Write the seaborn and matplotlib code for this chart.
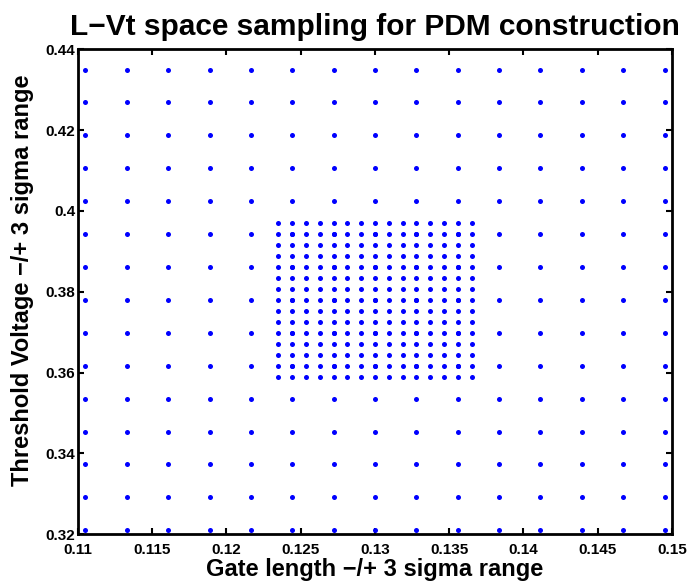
import numpy as np
import pandas as pd
import matplotlib
matplotlib.use("Agg")
import matplotlib.pyplot as plt
import seaborn as sns

# Nominal gate length / threshold voltage and their 1-sigma spreads
L_nominal = 0.13
L_sigma = 0.0065
Vt_nominal = 0.378
Vt_sigma = 0.019
n_points = 15

# Coarse grid spans -/+ 3 sigma, fine grid spans -/+ 1 sigma
coarse_L = np.linspace(L_nominal - 3 * L_sigma, L_nominal + 3 * L_sigma, n_points)
coarse_Vt = np.linspace(Vt_nominal - 3 * Vt_sigma, Vt_nominal + 3 * Vt_sigma, n_points)
fine_L = np.linspace(L_nominal - L_sigma, L_nominal + L_sigma, n_points)
fine_Vt = np.linspace(Vt_nominal - Vt_sigma, Vt_nominal + Vt_sigma, n_points)

x_ticks = [0.11, 0.115, 0.12, 0.125, 0.13, 0.135, 0.14, 0.145, 0.15]
x_tick_labels = ["0.11", "0.115", "0.12", "0.125", "0.13", "0.135", "0.14", "0.145", "0.15"]
y_ticks = [0.32, 0.34, 0.36, 0.38, 0.4, 0.42, 0.44]
y_tick_labels = ["0.32", "0.34", "0.36", "0.38", "0.4", "0.42", "0.44"]

cL, cV = np.meshgrid(coarse_L, coarse_Vt)
fL, fV = np.meshgrid(fine_L, fine_Vt)
samples = pd.DataFrame({
    "L": np.concatenate([cL.ravel(), fL.ravel()]),
    "Vt": np.concatenate([cV.ravel(), fV.ravel()]),
})

sns.set_style("white")
plt.rcParams["font.family"] = ["Liberation Sans", "DejaVu Sans"]
plt.rcParams["font.weight"] = "bold"
plt.rcParams["text.color"] = "black"
plt.rcParams["axes.labelcolor"] = "black"
plt.rcParams["xtick.color"] = "black"
plt.rcParams["ytick.color"] = "black"

fig = plt.figure(figsize=(6.89, 5.85), dpi=100)
ax = fig.add_axes([0.1132, 0.0867, 0.8621, 0.829])

sns.scatterplot(data=samples, x="L", y="Vt", ax=ax, color="#0000ff",
                s=13, linewidth=0, marker="o", legend=False)

ax.set_xlim(0.11, 0.15)
ax.set_ylim(0.32, 0.44)
ax.set_xticks(x_ticks)
ax.set_xticklabels(x_tick_labels, fontsize=11, fontweight="bold", color="black")
ax.set_yticks(y_ticks)
ax.set_yticklabels(y_tick_labels, fontsize=11, fontweight="bold", color="black")
ax.tick_params(direction="in", length=4, width=1.5, top=True, right=True,
               bottom=True, left=True, colors="black")
ax.tick_params(axis="x", pad=6)
ax.tick_params(axis="y", pad=2)
for sp in ax.spines.values():
    sp.set_linewidth(2)
    sp.set_color("black")

ax.set_xlabel("Gate length \u2212/+ 3 sigma range", fontsize=17, fontweight="bold",
              labelpad=1, color="black")
ax.set_ylabel("Threshold Voltage \u2212/+ 3 sigma range", fontsize=17, fontweight="bold",
              color="black")
ax.yaxis.set_label_coords(-0.074, 0.523)
ax.set_title("L\u2212Vt space sampling for PDM construction", fontsize=21.5,
             fontweight="bold", pad=10, color="black")

fig.savefig("out.png", dpi=100)
